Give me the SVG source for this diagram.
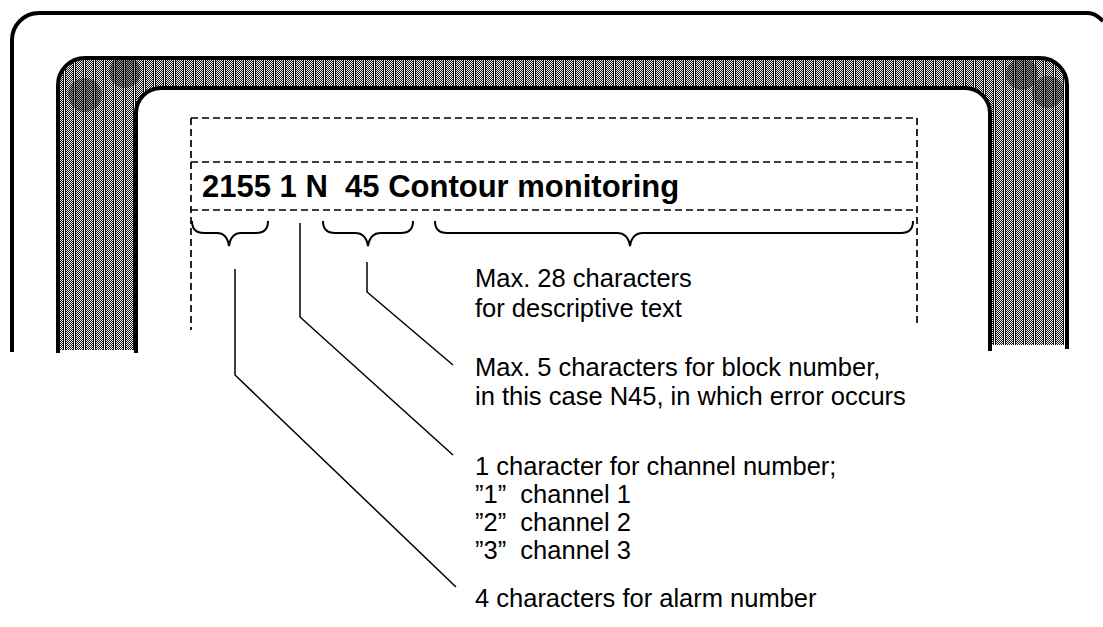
<svg xmlns="http://www.w3.org/2000/svg" width="1103" height="627" viewBox="0 0 1103 627">
<style>
.frame{fill:none;stroke:#000;stroke-width:4}
.dash{fill:none;stroke:#000;stroke-width:1.7;stroke-dasharray:7 4}
.brace{fill:none;stroke:#000;stroke-width:2}
.lead{fill:none;stroke:#000;stroke-width:1.5}
.bold{font-family:"Liberation Sans",Arial,sans-serif;font-weight:bold;font-size:31px;fill:#000}
.lbl{font-family:"Liberation Sans",Arial,sans-serif;font-size:25.5px;fill:#000}
</style>
<defs>
<pattern id="halftone" patternUnits="userSpaceOnUse" x="4" y="0" width="10" height="2">
<rect width="10" height="2" fill="#111"/>
<rect x="2" y="0" width="1" height="1" fill="#fff"/>
<rect x="4" y="0" width="1" height="1" fill="#fff"/>
<rect x="6" y="0" width="1" height="1" fill="#fff"/>
<rect x="8" y="0" width="1" height="1" fill="#fff"/>
<rect x="3" y="1" width="1" height="1" fill="#fff"/>
<rect x="5" y="1" width="1" height="1" fill="#fff"/>
<rect x="7" y="1" width="1" height="1" fill="#fff"/>
<rect x="0" y="0" width="1" height="2" fill="#fff"/>
</pattern>
<clipPath id="bandClip">
<path d="M58,350 V85 A27,27 0 0 1 85,58 H1040 A27,27 0 0 1 1067,85 V345 H990 V113 A25,25 0 0 0 965,88 H161 A25,25 0 0 0 136,113 V350 Z"/>
</clipPath>
</defs>

<g id="outer-frame">
<path class="frame" d="M12,352 V40 A27,27 0 0 1 39,13 H1088 Q1095,13 1103,21"/>
</g>

<g id="screen-bezel">
<path d="M58,350 V85 A27,27 0 0 1 85,58 H1040 A27,27 0 0 1 1067,85 V345 H990 V113 A25,25 0 0 0 965,88 H161 A25,25 0 0 0 136,113 V350 Z" fill="url(#halftone)" shape-rendering="crispEdges"/>
<g clip-path="url(#bandClip)" fill="#000" fill-opacity="0.4">
<circle cx="85" cy="95" r="17"/>
<circle cx="125" cy="72" r="16"/>
<circle cx="1022" cy="74" r="16"/>
<circle cx="1048" cy="92" r="16"/>
</g>
<path class="frame" d="M58,353 V85 A27,27 0 0 1 85,58 H1040 A27,27 0 0 1 1067,85 V349"/>
<path class="frame" d="M136,353 V113 A25,25 0 0 1 161,88 H965 A25,25 0 0 1 990,113 V351"/>
</g>

<g id="message-field">
<path class="dash" d="M191,118 H917"/>
<path class="dash" d="M191,162 H917"/>
<path class="dash" d="M191,210 H917"/>
<path class="dash" d="M191,118 V330"/>
<path class="dash" d="M917,118 V323"/>
<text class="bold" x="202" y="197" xml:space="preserve">2155 1 N  45 Contour monitoring</text>
</g>

<g id="braces">
<path class="brace" d="M192,221 Q192,233 204,233 H217 Q227,233 229,246 Q231,233 241,233 H256 Q268,233 268,221"/>
<path class="brace" d="M323,221 Q323,233 335,233 H355 Q366,233 368,246 Q370,233 381,233 H401 Q413,233 413,221"/>
<path class="brace" d="M435,221 Q435,233 447,233 H617 Q628,233 630,246 Q632,233 643,233 H901 Q913,233 913,221"/>
</g>

<g id="connectors">
<path class="lead" d="M235,269 V375 L456,587"/>
<path class="lead" d="M300,223 V317 L453,455"/>
<path class="lead" d="M367,262 V292 L453,365"/>
</g>

<g id="labels">
<text class="lbl" x="475" y="287">Max. 28 characters</text>
<text class="lbl" x="475" y="317">for descriptive text</text>
<text class="lbl" x="475" y="376">Max. 5 characters for block number,</text>
<text class="lbl" x="475" y="405">in this case N45, in which error occurs</text>
<text class="lbl" x="475" y="475">1 character for channel number;</text>
<text class="lbl" x="475" y="503" xml:space="preserve">”1”  channel 1</text>
<text class="lbl" x="475" y="531" xml:space="preserve">”2”  channel 2</text>
<text class="lbl" x="475" y="559" xml:space="preserve">”3”  channel 3</text>
<text class="lbl" x="475" y="607">4 characters for alarm number</text>
</g>
</svg>
